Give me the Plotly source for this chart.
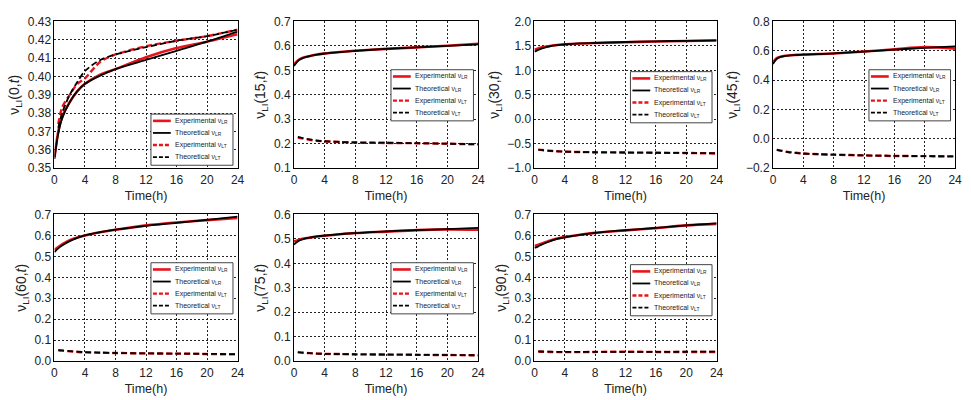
import plotly.graph_objects as go

# ---------------- data ----------------
angles = [0, 15, 30, 45, 60, 75, 90]
t_lr = [0, 0.5, 1, 2, 3, 4, 6, 8, 12, 16, 20, 24]
t_lt = [0.5, 1, 2, 3, 4, 6, 8, 12, 16, 20, 24]
time_ticks = [0, 4, 8, 12, 16, 20, 24]

exp_lr_0 = [0.356, 0.370, 0.378, 0.386, 0.392, 0.396, 0.401, 0.404, 0.4105, 0.4155, 0.419, 0.423]
theo_lr_0 = [0.355, 0.369, 0.377, 0.386, 0.392, 0.396, 0.4005, 0.404, 0.409, 0.414, 0.419, 0.4245]
exp_lt_0 = [0.374, 0.383, 0.390, 0.396, 0.399, 0.408, 0.412, 0.4165, 0.4195, 0.422, 0.4255]
theo_lt_0 = [0.372, 0.380, 0.390, 0.397, 0.403, 0.409, 0.412, 0.416, 0.4195, 0.422, 0.4255]

exp_lr_15 = [0.525, 0.540, 0.550, 0.558, 0.565, 0.569, 0.575, 0.580, 0.588, 0.594, 0.601, 0.609]
theo_lr_15 = [0.518, 0.538, 0.548, 0.558, 0.564, 0.569, 0.575, 0.580, 0.588, 0.594, 0.600, 0.606]
exp_lt_15 = [0.225, 0.222, 0.216, 0.212, 0.210, 0.207, 0.205, 0.203, 0.202, 0.200, 0.197]
theo_lt_15 = [0.228, 0.224, 0.218, 0.213, 0.210, 0.207, 0.205, 0.204, 0.202, 0.200, 0.198]

exp_lr_30 = [1.42, 1.45, 1.47, 1.50, 1.52, 1.535, 1.55, 1.56, 1.575, 1.59, 1.60, 1.61]
theo_lr_30 = [1.38, 1.42, 1.45, 1.49, 1.515, 1.53, 1.55, 1.56, 1.58, 1.595, 1.605, 1.615]
exp_lt_30 = [-0.62, -0.63, -0.645, -0.655, -0.665, -0.67, -0.675, -0.68, -0.685, -0.69, -0.70]
theo_lt_30 = [-0.62, -0.63, -0.645, -0.655, -0.66, -0.67, -0.675, -0.68, -0.685, -0.69, -0.695]

exp_lr_45 = [0.52, 0.55, 0.56, 0.568, 0.572, 0.575, 0.578, 0.582, 0.595, 0.61, 0.625, 0.615]
theo_lr_45 = [0.51, 0.545, 0.558, 0.567, 0.571, 0.574, 0.578, 0.582, 0.595, 0.608, 0.62, 0.63]
exp_lt_45 = [-0.075, -0.08, -0.09, -0.095, -0.10, -0.105, -0.108, -0.113, -0.117, -0.118, -0.12]
theo_lt_45 = [-0.073, -0.08, -0.09, -0.096, -0.10, -0.105, -0.108, -0.113, -0.116, -0.118, -0.12]

exp_lr_60 = [0.53, 0.545, 0.558, 0.577, 0.590, 0.600, 0.615, 0.627, 0.648, 0.662, 0.673, 0.683]
theo_lr_60 = [0.52, 0.538, 0.552, 0.573, 0.588, 0.600, 0.616, 0.628, 0.646, 0.660, 0.674, 0.690]
exp_lt_60 = [0.052, 0.050, 0.047, 0.044, 0.042, 0.040, 0.039, 0.037, 0.036, 0.034, 0.032]
theo_lt_60 = [0.053, 0.051, 0.048, 0.045, 0.043, 0.041, 0.039, 0.037, 0.036, 0.035, 0.033]

exp_lr_75 = [0.490, 0.495, 0.500, 0.505, 0.510, 0.513, 0.519, 0.524, 0.530, 0.536, 0.539, 0.538]
theo_lr_75 = [0.477, 0.490, 0.497, 0.505, 0.510, 0.514, 0.520, 0.524, 0.531, 0.536, 0.540, 0.545]
exp_lt_75 = [0.036, 0.035, 0.033, 0.031, 0.030, 0.029, 0.028, 0.027, 0.026, 0.025, 0.024]
theo_lt_75 = [0.037, 0.035, 0.033, 0.031, 0.030, 0.029, 0.028, 0.027, 0.026, 0.025, 0.024]

exp_lr_90 = [0.550, 0.555, 0.562, 0.575, 0.585, 0.592, 0.603, 0.612, 0.624, 0.635, 0.648, 0.655]
theo_lr_90 = [0.540, 0.548, 0.557, 0.572, 0.583, 0.591, 0.603, 0.612, 0.625, 0.636, 0.648, 0.658]
exp_lt_90 = [0.046, 0.045, 0.044, 0.043, 0.043, 0.043, 0.044, 0.045, 0.044, 0.044, 0.044]
theo_lt_90 = [0.047, 0.046, 0.045, 0.044, 0.044, 0.044, 0.044, 0.044, 0.044, 0.045, 0.045]

y_ranges = [[0.35, 0.43], [0.1, 0.7], [-1.0, 2.0], [-0.2, 0.8], [0.0, 0.7], [0.0, 0.6], [0.0, 0.7]]
y_dticks = [0.01, 0.1, 0.5, 0.2, 0.1, 0.1, 0.1]
y_formats = [".2f", ".1f", ".1f", ".1f", ".1f", ".1f", ".1f"]

legend_labels = ["Experimental ν<sub>LR</sub>", "Theoretical ν<sub>LR</sub>",
                 "Experimental ν<sub>LT</sub>", "Theoretical ν<sub>LT</sub>"]

series = [
    (exp_lr_0, theo_lr_0, exp_lt_0, theo_lt_0),
    (exp_lr_15, theo_lr_15, exp_lt_15, theo_lt_15),
    (exp_lr_30, theo_lr_30, exp_lt_30, theo_lt_30),
    (exp_lr_45, theo_lr_45, exp_lt_45, theo_lt_45),
    (exp_lr_60, theo_lr_60, exp_lt_60, theo_lt_60),
    (exp_lr_75, theo_lr_75, exp_lt_75, theo_lt_75),
    (exp_lr_90, theo_lr_90, exp_lt_90, theo_lt_90),
]

# ---------------- layout geometry ----------------
W, H = 971, 400
col_px = [(52, 237), (294, 480), (537, 721), (778, 962)]
row_px = [(15, 167), (215, 367)]
legend_top_px = [96, 50, 52, 50, 50, 50, 52]  # offset of legend box top from plot top

RED = "#e8141c"
BLACK = "#000000"
FONT = "Arial, Liberation Sans, sans-serif"
styles = [
    dict(color=RED, width=2.6, dash="solid"),
    dict(color=BLACK, width=1.8, dash="solid"),
    dict(color=RED, width=2.4, dash="6px,3px"),
    dict(color=BLACK, width=1.8, dash="6px,3px"),
]

fig = go.Figure()
layout = dict(
    width=W, height=H,
    margin=dict(l=0, r=0, t=0, b=0),
    paper_bgcolor="white", plot_bgcolor="white",
    showlegend=False,
    font=dict(family=FONT, size=12, color="#222"),
)
shapes = []
annotations = []

for i, ang in enumerate(angles):
    r, c = divmod(i, 4)
    n = i + 1
    xs = "" if n == 1 else str(n)
    xk, yk = "x" + xs, "y" + xs
    x0p, x1p = col_px[c]
    y0p, y1p = row_px[r]
    exp_lr, theo_lr, exp_lt, theo_lt = series[i]
    data = [(t_lr, exp_lr), (t_lr, theo_lr), (t_lt, exp_lt), (t_lt, theo_lt)]
    for (tx, vy), st in zip(data, styles):
        fig.add_trace(go.Scatter(x=tx, y=vy, mode="lines", xaxis=xk, yaxis=yk,
                                 line=dict(color=st["color"], width=st["width"], dash=st["dash"],
                                           shape="spline", smoothing=0.8),
                                 hoverinfo="skip"))
    axis_common = dict(showline=True, linecolor="black", linewidth=1, mirror=True,
                       showgrid=True, gridcolor="#222", gridwidth=1, griddash="2px,2px",
                       zeroline=False, ticks="", tickfont=dict(size=12, color="#222", family=FONT))
    layout["xaxis" + xs] = dict(axis_common, domain=[x0p / W, x1p / W], anchor=yk,
                                range=[0, 24], tickvals=time_ticks,
                                title=dict(text="Time(h)", font=dict(size=12.5, color="#222"), standoff=5))
    layout["yaxis" + xs] = dict(axis_common, domain=[1 - y1p / H, 1 - y0p / H], anchor=xk,
                                range=y_ranges[i], dtick=y_dticks[i], tick0=y_ranges[i][0],
                                tickformat=y_formats[i],
                                title=dict(text=f"ν<sub>LI</sub>({ang},<i>t</i>)",
                                           font=dict(size=14, color="#222"), standoff=4))

    # legend box (drawn as shapes + text)
    ph = y1p - y0p
    pw = x1p - x0p
    top_px = legend_top_px[i]
    box_h = 53
    bx0, bx1 = 0.527, 0.975
    by1 = 1 - top_px / ph
    by0 = 1 - (top_px + box_h) / ph
    xref, yref = xk + " domain", yk + " domain"
    shapes.append(dict(type="rect", xref=xref, yref=yref, x0=bx0, x1=bx1, y0=by0, y1=by1,
                       line=dict(color="#444", width=1), fillcolor="white", layer="above"))
    offs = [7, 19.5, 32, 44.5]
    for k, (lab, st) in enumerate(zip(legend_labels, styles)):
        yy = 1 - (top_px + offs[k]) / ph
        lx0 = bx0 + 2 / pw
        lx1 = bx0 + 20 / pw
        shapes.append(dict(type="line", xref=xref, yref=yref, x0=lx0, x1=lx1, y0=yy, y1=yy,
                           line=dict(color=st["color"], width=st["width"],
                                     dash="4px,2px" if st["dash"] != "solid" else "solid"),
                           layer="above"))
        annotations.append(dict(xref=xref, yref=yref, x=bx0 + 22 / pw, y=yy, text=lab,
                                showarrow=False, xanchor="left", yanchor="middle",
                                font=dict(size=7, color="#222", family=FONT)))

layout["shapes"] = shapes
layout["annotations"] = annotations
fig.update_layout(**layout)
fig.write_html("out.html")
